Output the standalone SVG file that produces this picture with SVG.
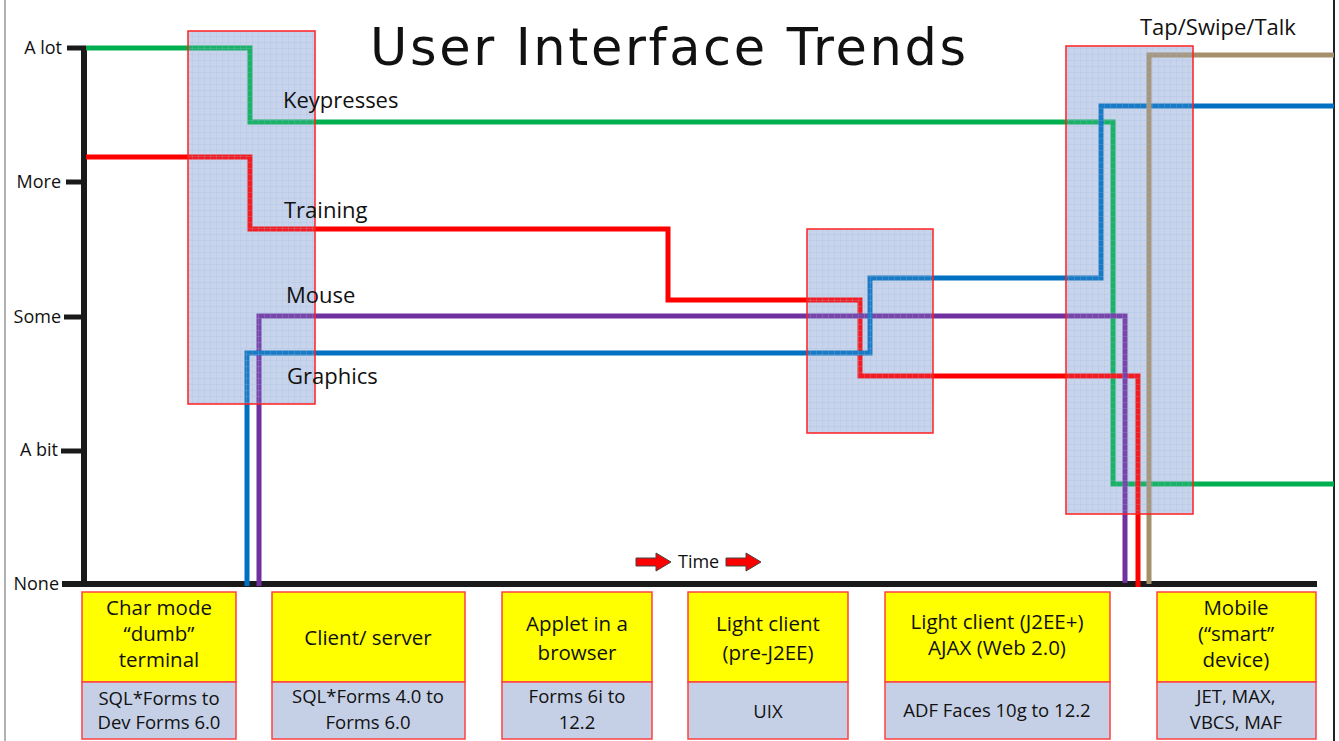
<svg xmlns="http://www.w3.org/2000/svg" width="1339" height="741" viewBox="0 0 1339 741">
<style>
.lbl{font-family:"Comic Sans MS","Open Sans","DejaVu Sans",sans-serif;fill:#111}
.ax{font-size:18px;text-anchor:end}
.ser{font-size:22px}
.top{font-size:20.5px;text-anchor:middle}
.bot{font-size:18.5px;text-anchor:middle}
.ln{fill:none;stroke-width:5;stroke-linejoin:miter}
.yb{fill:#ffff00;stroke:#ff4040;stroke-width:1.5}
.lb{fill:#c5d0e6;stroke:#ff4040;stroke-width:1.5}
.shade{fill:#ccd8ed}
.over{fill:url(#grid);stroke:#ff2020;stroke-width:1.5}
</style>
<defs>
<pattern id="grid" width="6" height="6" patternUnits="userSpaceOnUse">
<rect width="6" height="6" fill="#a8bce0" fill-opacity="0.15"/>
<path d="M0 0.5H6M0.5 0V6" stroke="#9fb4dc" stroke-width="1" stroke-opacity="0.22"/>
</pattern>
<path id="arr" d="M0 5H20V0L35 9L20 18V13H0Z" fill="#ff0000" stroke="#444" stroke-width="1"/>
</defs>
<rect width="1339" height="741" fill="#fff"/>
<line x1="5" y1="0" x2="5" y2="741" stroke="#999" stroke-width="1.5"/>
<line x1="1334" y1="0" x2="1334" y2="741" stroke="#222" stroke-width="2"/>
<text x="668" y="65" font-family="'DejaVu Sans','Liberation Sans',sans-serif" font-size="51" text-anchor="middle" textLength="596" lengthAdjust="spacing" fill="#111">User Interface Trends</text>

<g id="shade-bg">
<rect class="shade" x="188" y="31" width="127" height="373"/>
<rect class="shade" x="807" y="229" width="126" height="204"/>
<rect class="shade" x="1066" y="46" width="127" height="468"/>
</g>

<g id="axes">
<path d="M84 46V586" stroke="#1a1a1a" stroke-width="6" fill="none"/>
<path d="M62 584H1317" stroke="#1a1a1a" stroke-width="6" fill="none"/>
<path d="M67 48H86M66 182H84M64 317H84M61 451H84M62 584H84" stroke="#1a1a1a" stroke-width="5"/>
<text class="lbl ax" x="62" y="54">A lot</text>
<text class="lbl ax" x="61" y="188">More</text>
<text class="lbl ax" x="61" y="323">Some</text>
<text class="lbl ax" x="58" y="456">A bit</text>
<text class="lbl ax" x="59" y="590">None</text>
</g>

<g id="connectors">
<path id="keypresses-line" class="ln" stroke="#00b050" d="M86 48H250V122H1113V484H1334"/>
<path id="training-line" class="ln" stroke="#ff0000" d="M86 157H250V229H668V300H860V376H1138V587"/>
<path id="mouse-line" class="ln" stroke="#7030a0" d="M259 586V316H1125V583"/>
<path id="graphics-line" class="ln" stroke="#0070c0" d="M247 586V353H870V278H1101V106H1334"/>
<path id="tap-line" class="ln" stroke="#a5906b" d="M1149 584V55H1334"/>
</g>

<g id="shade-fg">
<rect class="over" x="188" y="31" width="127" height="373"/>
<rect class="over" x="807" y="229" width="126" height="204"/>
<rect class="over" x="1066" y="46" width="127" height="468"/>
</g>

<g id="series-labels">
<text class="lbl ser" x="283" y="108">Keypresses</text>
<text class="lbl ser" x="284" y="218">Training</text>
<text class="lbl ser" x="286" y="303">Mouse</text>
<text class="lbl ser" x="287" y="384">Graphics</text>
<text class="lbl ser" x="1140" y="35">Tap/Swipe/Talk</text>
</g>

<g id="time">
<use href="#arr" x="636" y="553"/>
<text class="lbl" x="678" y="568" font-size="18">Time</text>
<use href="#arr" x="726" y="553"/>
</g>

<g id="era-char">
<rect class="yb" x="82" y="592" width="154" height="90"/>
<rect class="lb" x="82" y="682" width="154" height="57"/>
<text class="lbl top" x="159" y="615">Char mode</text>
<text class="lbl top" x="159" y="641">“dumb”</text>
<text class="lbl top" x="159" y="667">terminal</text>
<text class="lbl bot" x="159" y="705">SQL*Forms to</text>
<text class="lbl bot" x="159" y="729">Dev Forms 6.0</text>
</g>
<g id="era-cs">
<rect class="yb" x="272" y="592" width="193" height="90"/>
<rect class="lb" x="272" y="682" width="193" height="57"/>
<text class="lbl top" x="368" y="645">Client/ server</text>
<text class="lbl bot" x="368" y="703">SQL*Forms 4.0 to</text>
<text class="lbl bot" x="368" y="729">Forms 6.0</text>
</g>
<g id="era-applet">
<rect class="yb" x="502" y="592" width="150" height="90"/>
<rect class="lb" x="502" y="682" width="150" height="57"/>
<text class="lbl top" x="577" y="631">Applet in a</text>
<text class="lbl top" x="577" y="660">browser</text>
<text class="lbl bot" x="577" y="703">Forms 6i to</text>
<text class="lbl bot" x="577" y="729">12.2</text>
</g>
<g id="era-light">
<rect class="yb" x="688" y="592" width="160" height="90"/>
<rect class="lb" x="688" y="682" width="160" height="57"/>
<text class="lbl top" x="768" y="631">Light client</text>
<text class="lbl top" x="768" y="660">(pre-J2EE)</text>
<text class="lbl bot" x="768" y="718">UIX</text>
</g>
<g id="era-ajax">
<rect class="yb" x="885" y="592" width="225" height="90"/>
<rect class="lb" x="885" y="682" width="225" height="57"/>
<text class="lbl top" x="997" y="629">Light client (J2EE+)</text>
<text class="lbl top" x="997" y="655">AJAX (Web 2.0)</text>
<text class="lbl bot" x="997" y="717">ADF Faces 10g to 12.2</text>
</g>
<g id="era-mobile">
<rect class="yb" x="1157" y="592" width="159" height="90"/>
<rect class="lb" x="1157" y="682" width="159" height="57"/>
<text class="lbl top" x="1236" y="615">Mobile</text>
<text class="lbl top" x="1236" y="641">(“smart”</text>
<text class="lbl top" x="1236" y="667">device)</text>
<text class="lbl bot" x="1236" y="703">JET, MAX,</text>
<text class="lbl bot" x="1236" y="729">VBCS, MAF</text>
</g>
</svg>
